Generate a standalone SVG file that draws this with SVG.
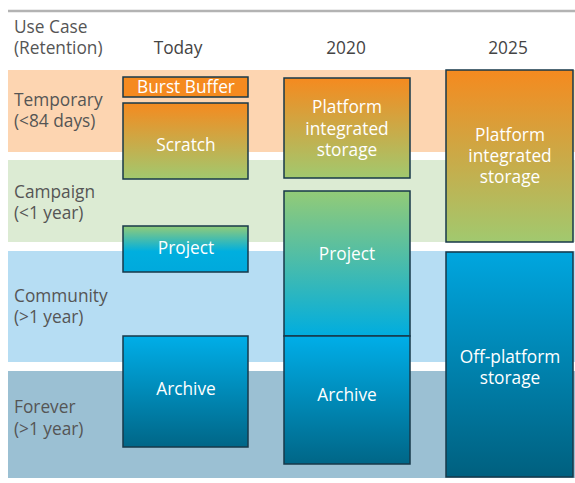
<svg xmlns="http://www.w3.org/2000/svg" width="575" height="483" viewBox="0 0 575 483">
<defs>
<linearGradient id="gOrangeGreen" x1="0" y1="0" x2="0" y2="1">
<stop offset="0" stop-color="#f58a1f"/>
<stop offset="1" stop-color="#a1c96f"/>
</linearGradient>
<linearGradient id="gGreenBlue" x1="0" y1="0" x2="0" y2="1">
<stop offset="0" stop-color="#93cb77"/>
<stop offset="1" stop-color="#00addf"/>
</linearGradient>
<linearGradient id="gGreenBlueShort" x1="0" y1="0" x2="0" y2="1">
<stop offset="0" stop-color="#93cb77"/>
<stop offset="0.55" stop-color="#00afdf"/>
<stop offset="1" stop-color="#00a9dc"/>
</linearGradient>
<linearGradient id="gBlueDark" x1="0" y1="0" x2="0" y2="1">
<stop offset="0" stop-color="#00aee8"/>
<stop offset="1" stop-color="#006687"/>
</linearGradient>
<linearGradient id="gOff" x1="0" y1="0" x2="0" y2="1">
<stop offset="0" stop-color="#00a6df"/>
<stop offset="1" stop-color="#00607f"/>
</linearGradient>
</defs>
<style>
.lbl{font-family:"Open Sans",Lato,"Liberation Sans",sans-serif;font-size:17.3px;fill:#555555}
.hdr{font-family:"Open Sans",Lato,"Liberation Sans",sans-serif;font-size:17.3px;fill:#444444;text-anchor:middle}
.box{stroke:#17384a;stroke-width:1.5}
.bt{font-family:"Open Sans",Lato,"Liberation Sans",sans-serif;font-size:17.3px;fill:#ffffff;text-anchor:middle}
</style>
<rect width="575" height="483" fill="#ffffff"/>
<line x1="8" y1="11" x2="575" y2="11" stroke="#b3b3b3" stroke-width="2.5"/>
<g id="header">
<text class="lbl" x="14" y="33">Use Case</text>
<text class="lbl" x="14" y="54">(Retention)</text>
<text class="hdr" x="178" y="54">Today</text>
<text class="hdr" x="346" y="54">2020</text>
<text class="hdr" x="508" y="54">2025</text>
</g>
<g id="bands">
<rect x="8" y="70" width="567" height="82" fill="#fdd5b1"/>
<rect x="8" y="160" width="567" height="82" fill="#dcebd3"/>
<rect x="8" y="251" width="567" height="111" fill="#b6ddf3"/>
<rect x="8" y="371" width="567" height="107" fill="#9bc0d3"/>
</g>
<g id="row-labels">
<text class="lbl" x="14" y="106">Temporary</text>
<text class="lbl" x="14" y="127">(&lt;84 days)</text>
<text class="lbl" x="14" y="198">Campaign</text>
<text class="lbl" x="14" y="219">(&lt;1 year)</text>
<text class="lbl" x="14" y="302">Community</text>
<text class="lbl" x="14" y="323">(&gt;1 year)</text>
<text class="lbl" x="14" y="413">Forever</text>
<text class="lbl" x="14" y="435">(&gt;1 year)</text>
</g>
<g id="connectors"></g>
<g id="today-burst-buffer">
<rect class="box" x="123" y="77" width="125" height="20" fill="#f58a1f"/>
<text class="bt" x="186" y="93">Burst Buffer</text>
</g>
<g id="today-scratch">
<rect class="box" x="123" y="103" width="125" height="76" fill="url(#gOrangeGreen)"/>
<text class="bt" x="186" y="151">Scratch</text>
</g>
<g id="today-project">
<rect class="box" x="123" y="226" width="125" height="46" fill="url(#gGreenBlueShort)"/>
<text class="bt" x="186" y="254">Project</text>
</g>
<g id="today-archive">
<rect class="box" x="123" y="336" width="125" height="111" fill="url(#gBlueDark)"/>
<text class="bt" x="186" y="395">Archive</text>
</g>
<g id="y2020-platform">
<rect class="box" x="284" y="78" width="126" height="100" fill="url(#gOrangeGreen)"/>
<text class="bt" x="347" y="113">Platform</text>
<text class="bt" x="347" y="135">integrated</text>
<text class="bt" x="347" y="156">storage</text>
</g>
<g id="y2020-project">
<rect class="box" x="284" y="191" width="126" height="145" fill="url(#gGreenBlue)"/>
<text class="bt" x="347" y="260">Project</text>
</g>
<g id="y2020-archive">
<rect class="box" x="284" y="336" width="126" height="128" fill="url(#gBlueDark)"/>
<text class="bt" x="347" y="401">Archive</text>
</g>
<g id="y2025-platform">
<rect class="box" x="446" y="70" width="127" height="172" fill="url(#gOrangeGreen)"/>
<text class="bt" x="510" y="141">Platform</text>
<text class="bt" x="510" y="162">integrated</text>
<text class="bt" x="510" y="183">storage</text>
</g>
<g id="y2025-offplatform">
<rect class="box" x="446" y="252" width="127" height="225" fill="url(#gOff)"/>
<text class="bt" x="510" y="363">Off-platform</text>
<text class="bt" x="510" y="384">storage</text>
</g>
</svg>
